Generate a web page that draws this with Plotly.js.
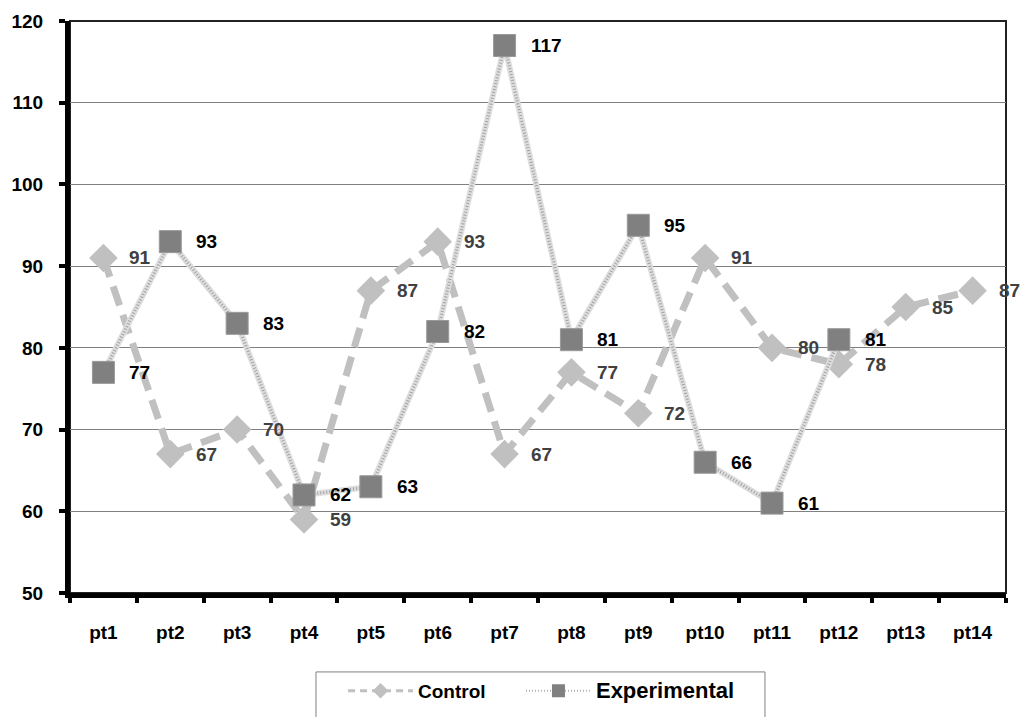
<!DOCTYPE html>
<html><head><meta charset="utf-8">
<script src="https://cdn.plot.ly/plotly-3.0.1.min.js"></script>
<style>body{margin:0;background:#fff}#c{width:1023px;height:717px}</style>
</head><body><div id="c"></div>
<script>
const categories = ['pt1','pt2','pt3','pt4','pt5','pt6','pt7','pt8','pt9','pt10','pt11','pt12','pt13','pt14'];
const controlValues = [91,67,70,59,87,93,67,77,72,91,80,78,85,87];
const experimentalValues = [77,93,83,62,63,82,117,81,95,66,61,81,null,null];
const yTicks = [50,60,70,80,90,100,110,120];

const font = 'Arial, "Liberation Sans", sans-serif';

const control = {
  x: categories, y: controlValues, type: 'scatter', mode: 'lines+markers',
  name: 'Control', showlegend: false,
  line: {color: '#c0c0c0', width: 7, dash: '20px,10px'},
  marker: {symbol: 'diamond', size: 22, color: '#c0c0c0'}
};
const experimentalBand = {
  x: categories, y: experimentalValues, type: 'scatter', mode: 'lines',
  name: 'Experimental', showlegend: false, hoverinfo: 'skip',
  line: {color: '#dedede', width: 6}
};
const experimental = {
  x: categories, y: experimentalValues, type: 'scatter', mode: 'lines+markers',
  name: 'Experimental', showlegend: false,
  line: {color: '#a0a0a0', width: 3, dash: '1px,2px'},
  marker: {symbol: 'square', size: 22, color: '#808080', line: {color: '#999999', width: 1}}
};
const legendControl = {
  x: [null], y: [null], type: 'scatter', mode: 'lines+markers', legend: 'legend',
  name: '<span style="font-size:19px">Control</span>',
  line: {color: '#c0c0c0', width: 3, dash: '7px,5px'},
  marker: {symbol: 'diamond', size: 12, color: '#c0c0c0'}
};
const legendExperimental = {
  x: [null], y: [null], type: 'scatter', mode: 'lines+markers', legend: 'legend2',
  name: '<span style="font-size:22px">Experimental</span>',
  line: {color: '#b0b0b0', width: 2, dash: '1px,2px'},
  marker: {symbol: 'square', size: 13, color: '#808080'}
};

const annotations = [];
categories.forEach((c, i) => {
  if (controlValues[i] != null) annotations.push({
    x: c, y: controlValues[i], xref: 'x', yref: 'y', text: String(controlValues[i]),
    showarrow: false, xanchor: 'left', yanchor: 'middle', xshift: 24,
    font: {family: font, size: 19, color: '#404040', weight: 'bold'}
  });
  if (experimentalValues[i] != null) annotations.push({
    x: c, y: experimentalValues[i], xref: 'x', yref: 'y', text: String(experimentalValues[i]),
    showarrow: false, xanchor: 'left', yanchor: 'middle', xshift: 24,
    font: {family: font, size: 19, color: '#000000', weight: 'bold'}
  });
});

const legendBase = {
  orientation: 'h', xref: 'paper', xanchor: 'left',
  yref: 'container', y: 0.063, yanchor: 'top',
  borderwidth: 0, bgcolor: 'rgba(0,0,0,0)', itemwidth: 65,
  font: {family: font, size: 19, color: '#000', weight: 'bold'},
  itemclick: false
};

const layout = {
  width: 1023, height: 717,
  margin: {l: 70, r: 17, t: 21, b: 124},
  paper_bgcolor: '#fff', plot_bgcolor: '#fff',
  font: {family: font, size: 19, color: '#000', weight: 'bold'},
  showlegend: true,
  legend: Object.assign({}, legendBase, {x: 0.2917}),
  legend2: Object.assign({}, legendBase, {x: 0.4818}),
  xaxis: {
    type: 'category', categoryorder: 'array', categoryarray: categories,
    tickson: 'boundaries', ticks: 'outside', ticklen: 5, tickwidth: 4, tickcolor: '#000',
    showline: true, linecolor: '#000', linewidth: 5, showgrid: false, zeroline: false,
    tickfont: {family: font, size: 19, color: '#000', weight: 'bold'},
    ticklabelstandoff: 18,
    range: [-0.5, 13.5], fixedrange: true
  },
  yaxis: {
    range: [50, 120], tickvals: yTicks, ticktext: yTicks.map(String),
    ticks: 'outside', ticklen: 6, tickwidth: 4, tickcolor: '#000',
    showline: true, linecolor: '#000', linewidth: 5,
    showgrid: true, gridcolor: '#808080', gridwidth: 1, zeroline: false,
    tickfont: {family: font, size: 19, color: '#000', weight: 'bold'},
    ticklabelstandoff: 12,
    fixedrange: true
  },
  shapes: [
    {type: 'rect', xref: 'paper', yref: 'paper', x0: 0, x1: 1, y0: 0, y1: 1,
      line: {color: '#222', width: 2}, layer: 'below'},
    {type: 'rect', xref: 'paper', yref: 'paper', x0: 0.2628, x1: 0.7425, y0: -0.138, y1: -0.23,
      line: {color: '#808080', width: 1}, layer: 'below'}
  ],
  annotations: annotations
};

Plotly.newPlot('c', [control, experimentalBand, experimental, legendControl, legendExperimental], layout, {displayModeBar: false, staticPlot: true});
</script></body></html>
